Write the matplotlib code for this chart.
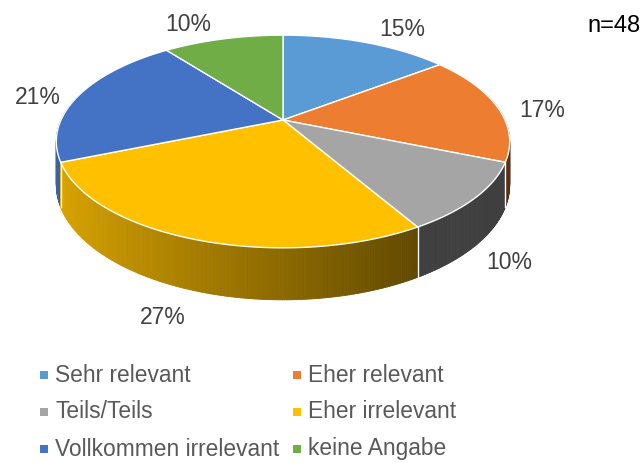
import numpy as np
import matplotlib.pyplot as plt
from matplotlib.collections import PolyCollection
from matplotlib.colors import to_rgb

# ---- data ----
categories = ["Sehr relevant", "Eher relevant", "Teils/Teils",
              "Eher irrelevant", "Vollkommen irrelevant", "keine Angabe"]
counts = [7, 8, 5, 13, 10, 5]          # n = 48
pct_labels = ["15%", "17%", "10%", "27%", "21%", "10%"]
colors = ["#5B9BD5", "#ED7D31", "#A5A5A5", "#FFC000", "#4472C4", "#70AD47"]
n_total = sum(counts)

# ---- geometry of the 3D pie (pixel space) ----
CX, CY = 283, 120      # centre of pie top
A, B = 222, 102        # horizontal / vertical radius scale
P = 0.202              # perspective factor
DEPTH = 41.5           # thickness

def proj(r, th, z=0.0):
    u = r * np.cos(th)
    v = r * np.sin(th)
    w = 1 + P * v
    return CX + A * u / w, CY - B * v / w + z * DEPTH / w

def shade(u):
    return np.clip(0.545 - 0.336 * u, 0.38, 0.9)

plt.rcParams['font.family'] = ['Liberation Sans', 'DejaVu Sans']
fig = plt.figure(figsize=(6.43, 4.63), dpi=100)
ax = fig.add_axes([0, 0, 1, 1])
ax.set_xlim(0, 643)
ax.set_ylim(463, 0)
ax.axis('off')

frac = np.array(counts) / n_total
bounds = np.pi / 2 - 2 * np.pi * np.concatenate([[0], np.cumsum(frac)])

# side walls, drawn back to front
strips = []
for i in range(len(counts)):
    th0, th1 = bounds[i], bounds[i + 1]
    ths = np.linspace(th0, th1, max(int(abs(th1 - th0) / np.radians(0.5)), 2) + 1)
    base = np.array(to_rgb(colors[i]))
    for a, b in zip(ths[:-1], ths[1:]):
        m = (a + b) / 2
        if np.sin(m) > 0.3:
            continue
        quad = [proj(1, a), proj(1, b), proj(1, b, 1), proj(1, a, 1)]
        strips.append((np.sin(m), quad, base * shade(np.cos(m))))
strips.sort(key=lambda s: -s[0])
pc = PolyCollection([s[1] for s in strips], facecolors=[s[2] for s in strips],
                    edgecolors=[s[2] for s in strips], linewidths=0.6, zorder=1)
ax.add_collection(pc)

# seams between slices on the wall
for th in bounds[:-1]:
    if np.sin(th) < 0:
        x0, y0 = proj(1, th)
        x1, y1 = proj(1, th, 1)
        ax.plot([x0, x1], [y0, y1], color='white', lw=1, zorder=2)

# top faces
for i in range(len(counts)):
    th0, th1 = bounds[i], bounds[i + 1]
    ths = np.linspace(th0, th1, 200)
    pts = [(CX, CY)] + [proj(1, t) for t in ths]
    ax.add_patch(plt.Polygon(pts, closed=True, facecolor=colors[i],
                             edgecolor='white', lw=1, zorder=3))

# data labels
label_nudge = [(22, 0), (3, 6), (-12, -3), (-9, -7), (-3, 7), (-25, -1)]
for i, lab in enumerate(pct_labels):
    mid = (bounds[i] + bounds[i + 1]) / 2
    z = 1 if np.sin(mid) < 0 else 0
    x, y = proj(1.2, mid, z)
    dx, dy = label_nudge[i]
    ax.text(x + dx, y + dy, lab, fontsize=16.5, color='#404040',
            ha='center', va='center', zorder=4)

ax.text(641, 26, f"n={n_total}", fontsize=17, color='black',
        ha='right', va='center')

# legend
row_y = [375, 412, 449]
col_x = [44, 297]
for i, cat in enumerate(categories):
    r, c = divmod(i, 2)
    ax.add_patch(plt.Rectangle((col_x[c] - 4, row_y[r] - 4), 8, 8,
                               facecolor=colors[i], edgecolor='none'))
    ax.text(col_x[c] + 11, row_y[r], cat, fontsize=16.4, color='#595959',
            ha='left', va='center')

plt.savefig('out.png', dpi=100)
